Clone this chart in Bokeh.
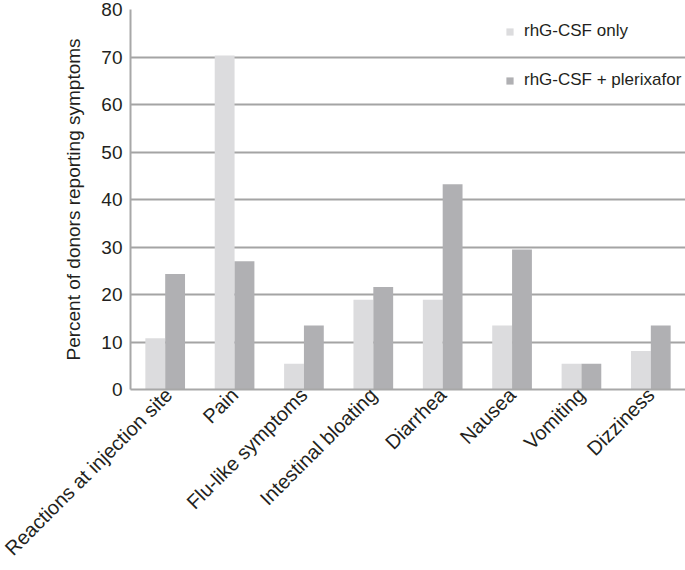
import math
from bokeh.plotting import figure
from bokeh.models import (ColumnDataSource, FactorRange, Range1d, Legend, LegendItem,
                          FixedTicker)
from bokeh.transform import dodge
from bokeh.embed import file_html
from bokeh.resources import INLINE

categories = ["Reactions at injection site", "Pain", "Flu-like symptoms",
              "Intestinal bloating", "Diarrhea", "Nausea", "Vomiting", "Dizziness"]
rhg_only = [10.8, 70.3, 5.4, 18.9, 18.9, 13.5, 5.4, 8.1]
rhg_plerixafor = [24.3, 27.0, 13.5, 21.6, 43.2, 29.5, 5.4, 13.5]
series_names = ["rhG-CSF only", "rhG-CSF + plerixafor"]
y_ticks = [0, 10, 20, 30, 40, 50, 60, 70, 80]

LIGHT = "#dcdcde"
DARK = "#b0b0b3"
TEXT = "#231f20"
FONT = "Liberation Sans"

src = ColumnDataSource(dict(cat=categories, a=rhg_only, b=rhg_plerixafor))

p = figure(width=685, height=570, output_backend="svg", toolbar_location=None,
           x_range=FactorRange(factors=categories, range_padding=0),
           y_range=Range1d(0, 80),
           min_border_left=130, min_border_right=0, min_border_top=9,
           min_border_bottom=179)

bw = 0.286
r1 = p.vbar(x=dodge("cat", -bw / 2, range=p.x_range), top="a", width=bw,
            source=src, fill_color=LIGHT, line_color=None)
r2 = p.vbar(x=dodge("cat", bw / 2, range=p.x_range), top="b", width=bw,
            source=src, fill_color=DARK, line_color=None)

p.outline_line_color = None
p.xgrid.grid_line_color = None
p.ygrid.grid_line_color = "#a4a4a4"
p.ygrid.grid_line_width = 2
p.yaxis.ticker = FixedTicker(ticks=y_ticks)

for ax in (p.xaxis[0], p.yaxis[0]):
    ax.axis_line_color = "#a8a8a8"
    ax.axis_line_width = 2
    ax.major_tick_line_color = None
    ax.minor_tick_line_color = None
    ax.major_tick_out = 0
    ax.major_tick_in = 0
    ax.minor_tick_out = 0
    ax.minor_tick_in = 0
    ax.major_label_text_font = FONT
    ax.major_label_text_color = TEXT

p.yaxis.major_label_text_font_size = "19px"
p.yaxis.major_label_standoff = 8
p.yaxis.axis_label = "Percent of donors reporting symptoms"
p.yaxis.axis_label_text_font = FONT
p.yaxis.axis_label_text_font_size = "19px"
p.yaxis.axis_label_text_font_style = "normal"
p.yaxis.axis_label_text_color = TEXT
p.yaxis.axis_label_standoff = 14

p.xaxis.major_label_text_font_size = "20px"
p.xaxis.major_label_orientation = math.pi / 4
p.xaxis.major_label_standoff = 2

legend = Legend(items=[LegendItem(label=series_names[0], renderers=[r1]),
                       LegendItem(label=series_names[1], renderers=[r2])],
                location=(375, 299), orientation="vertical",
                background_fill_alpha=0, border_line_alpha=0,
                glyph_width=9, glyph_height=9, label_height=20,
                label_standoff=10, spacing=29, padding=0, margin=0,
                label_text_font=FONT, label_text_font_size="17px",
                label_text_color=TEXT)
p.add_layout(legend)

open("out.html", "w").write(file_html(p, INLINE))
